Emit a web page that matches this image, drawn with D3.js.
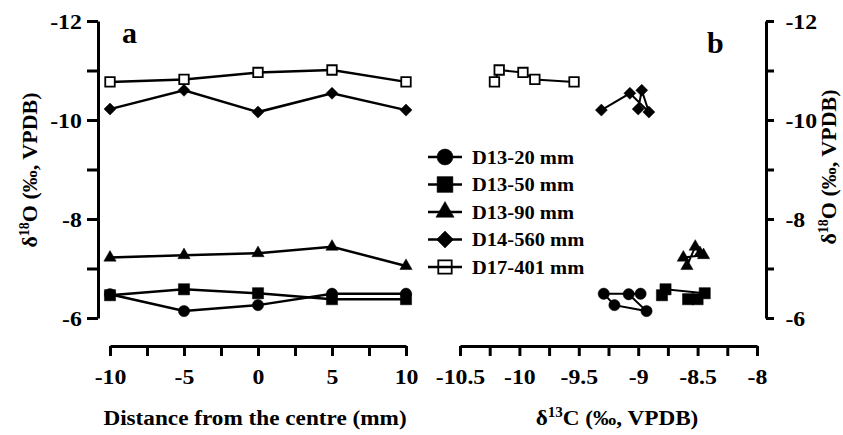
<!DOCTYPE html>
<html>
<head>
<meta charset="utf-8">
<script src="https://cdn.jsdelivr.net/npm/d3@7"></script>
<style>
  body { margin: 0; background: #fff; }
  svg text { font-family: "Liberation Serif", "Times New Roman", serif; font-weight: bold; fill: #000; }
</style>
</head>
<body>
<div id="chart"></div>
<script>
// distance from the centre (mm), shared by every sample
const distance = [-10, -5, 0, 5, 10];
const sampleNames = ['D13-20 mm', 'D13-50 mm', 'D13-90 mm', 'D14-560 mm', 'D17-401 mm'];
const markerTypes = ['circle', 'square', 'triangle', 'diamond', 'openSquare'];

// d18O values, in distance order
const o18_D13_20 = [-6.48, -6.14, -6.26, -6.49, -6.49];
const o18_D13_50 = [-6.46, -6.58, -6.50, -6.38, -6.38];
const o18_D13_90 = [-7.22, -7.27, -7.31, -7.44, -7.05];
const o18_D14_560 = [-10.22, -10.60, -10.16, -10.54, -10.20];
const o18_D17_401 = [-10.77, -10.82, -10.96, -11.01, -10.77];

// d13C values, in distance order
const c13_D13_20 = [-9.08, -8.93, -9.20, -9.29, -8.98];
const c13_D13_50 = [-8.80, -8.77, -8.44, -8.58, -8.50];
const c13_D13_90 = [-8.62, -8.45, -8.48, -8.52, -8.59];
const c13_D14_560 = [-9.00, -8.97, -8.91, -9.07, -9.31];
const c13_D17_401 = [-9.54, -9.87, -9.97, -10.17, -10.21];

// axis ticks
const yTicks = [-12, -11, -10, -9, -8, -7, -6];
const yLabels = [-12, -10, -8, -6];
const distTicks = [-10, -7.5, -5, -2.5, 0, 2.5, 5, 7.5, 10];
const distLabels = [-10, -5, 0, 5, 10];
const c13Ticks = [-10.5, -10.25, -10, -9.75, -9.5, -9.25, -9, -8.75, -8.5, -8.25, -8];
const c13Labels = [-10.5, -10, -9.5, -9, -8.5, -8];

const o18All = [o18_D13_20, o18_D13_50, o18_D13_90, o18_D14_560, o18_D17_401];
const c13All = [c13_D13_20, c13_D13_50, c13_D13_90, c13_D14_560, c13_D17_401];

const width = 843, height = 435;
const SX = 1.08; // the scanned figure is a little wider than tall

const svg = d3.select('#chart')
    .append('svg')
    .attr('width', width)
    .attr('height', height);

// scales
const y = d3.scaleLinear().domain([-12, -6]).range([21, 318]);
const xDist = d3.scaleLinear().domain([-10, 10]).range([110, 406]);
const xC = d3.scaleLinear().domain([-10.5, -8]).range([460, 757]);

const labelFmt = list => d => list.includes(d) ? String(d) : '';

function styleAxis(g) {
    g.selectAll('path.domain').attr('stroke', '#000').attr('stroke-width', 3);
    g.selectAll('.tick line').attr('stroke', '#000').attr('stroke-width', 3);
    g.selectAll('.tick text')
        .style('font-family', '"Liberation Serif", "Times New Roman", serif')
        .style('font-weight', 'bold')
        .style('font-size', '22px')
        .attr('fill', '#000')
        .attr('transform', `scale(${SX},1)`);
}

// panel a axes
svg.append('g')
    .attr('transform', 'translate(98,0)')
    .call(d3.axisLeft(y).tickValues(yTicks).tickFormat(labelFmt(yLabels)).tickSize(11).tickSizeOuter(0).tickPadding(4))
    .call(styleAxis);

svg.append('g')
    .attr('transform', 'translate(0,346)')
    .call(d3.axisBottom(xDist).tickValues(distTicks).tickFormat(labelFmt(distLabels)).tickSize(10).tickSizeOuter(0).tickPadding(12))
    .call(styleAxis);

// panel b axes
svg.append('g')
    .attr('transform', 'translate(766,0)')
    .call(d3.axisRight(y).tickValues(yTicks).tickFormat(labelFmt(yLabels)).tickSize(8).tickSizeOuter(0).tickPadding(10))
    .call(styleAxis);

svg.append('g')
    .attr('transform', 'translate(0,346)')
    .call(d3.axisBottom(xC).tickValues(c13Ticks).tickFormat(labelFmt(c13Labels)).tickSize(10).tickSizeOuter(0).tickPadding(12))
    .call(styleAxis);

// markers (legend ones are drawn bigger)
function markerPath(type, k) {
    if (type === 'circle') return d3.symbol(d3.symbolCircle, 100 * k)();
    if (type === 'triangle') return d3.symbol(d3.symbolTriangle, 65 * k)();
    if (type === 'diamond') return d3.symbol(d3.symbolSquare, 72 * k)();
    return d3.symbol(d3.symbolSquare, (type === 'openSquare' ? 90 : 125) * k)();
}

function drawMarker(g, type, px, py, k = 1) {
    g.append('path')
        .attr('d', markerPath(type, k))
        .attr('transform', `translate(${px},${py})` + (type === 'diamond' ? ' rotate(45)' : ''))
        .attr('fill', type === 'openSquare' ? 'none' : '#000')
        .attr('stroke', '#000')
        .attr('stroke-width', type === 'openSquare' ? 1.8 : 0.5);
}

const lineA = d3.line().x(d => xDist(d[0])).y(d => y(d[1]));
const lineB = d3.line().x(d => xC(d[0])).y(d => y(d[1]));

const plotA = svg.append('g');
const plotB = svg.append('g');

o18All.forEach((o18, i) => {
    const ptsA = distance.map((d, j) => [d, o18[j]]);
    plotA.append('path')
        .attr('d', lineA(ptsA))
        .attr('fill', 'none')
        .attr('stroke', '#000')
        .attr('stroke-width', 2.5);
    ptsA.forEach(p => drawMarker(plotA, markerTypes[i], xDist(p[0]), y(p[1])));

    const ptsB = c13All[i].map((c, j) => [c, o18[j]]);
    plotB.append('path')
        .attr('d', lineB(ptsB))
        .attr('fill', 'none')
        .attr('stroke', '#000')
        .attr('stroke-width', 2);
    ptsB.forEach(p => drawMarker(plotB, markerTypes[i], xC(p[0]), y(p[1])));
});

// the open squares hide the line behind them
plotA.selectAll('path').filter(function () { return d3.select(this).attr('fill') === 'none' && d3.select(this).attr('stroke-width') == 1.8; }).attr('fill', '#fff');
plotB.selectAll('path').filter(function () { return d3.select(this).attr('fill') === 'none' && d3.select(this).attr('stroke-width') == 1.8; }).attr('fill', '#fff');

// legend
const legend = svg.append('g').attr('transform', 'translate(428,157)');
sampleNames.forEach((name, i) => {
    const row = legend.append('g').attr('transform', `translate(0,${i * 27.5})`);
    row.append('line')
        .attr('x1', 0).attr('x2', 34)
        .attr('stroke', '#000').attr('stroke-width', 2.5);
    drawMarker(row, markerTypes[i], 17, 0, markerTypes[i] === 'triangle' ? 2.2 : 2);
    row.append('text')
        .attr('transform', `translate(44,0) scale(${SX},1)`)
        .attr('dy', '0.35em')
        .style('font-size', '19px')
        .text(name);
});

// panel letters
svg.append('text').attr('x', 122).attr('y', 43).style('font-size', '30px').text('a');
svg.append('text').attr('x', 707).attr('y', 53).style('font-size', '30px').text('b');

// axis titles
function isoLabel(g, mass, elem) {
    g.append('tspan').text('δ');
    g.append('tspan').attr('dy', -8).style('font-size', '14px').text(mass);
    g.append('tspan').attr('dy', 8).text(elem + ' (‰, VPDB)');
}

svg.append('text')
    .attr('transform', 'translate(37,170) rotate(-90)')
    .attr('text-anchor', 'middle')
    .style('font-size', '22px')
    .call(isoLabel, '18', 'O');

svg.append('text')
    .attr('transform', 'translate(836,167) rotate(-90)')
    .attr('text-anchor', 'middle')
    .style('font-size', '22px')
    .call(isoLabel, '18', 'O');

svg.append('text')
    .attr('transform', `translate(255,425) scale(${SX},1)`)
    .attr('text-anchor', 'middle')
    .style('font-size', '21.5px')
    .text('Distance from the centre (mm)');

svg.append('text')
    .attr('transform', `translate(617,425) scale(${SX},1)`)
    .attr('text-anchor', 'middle')
    .style('font-size', '21.5px')
    .call(isoLabel, '13', 'C');
</script>
</body>
</html>
